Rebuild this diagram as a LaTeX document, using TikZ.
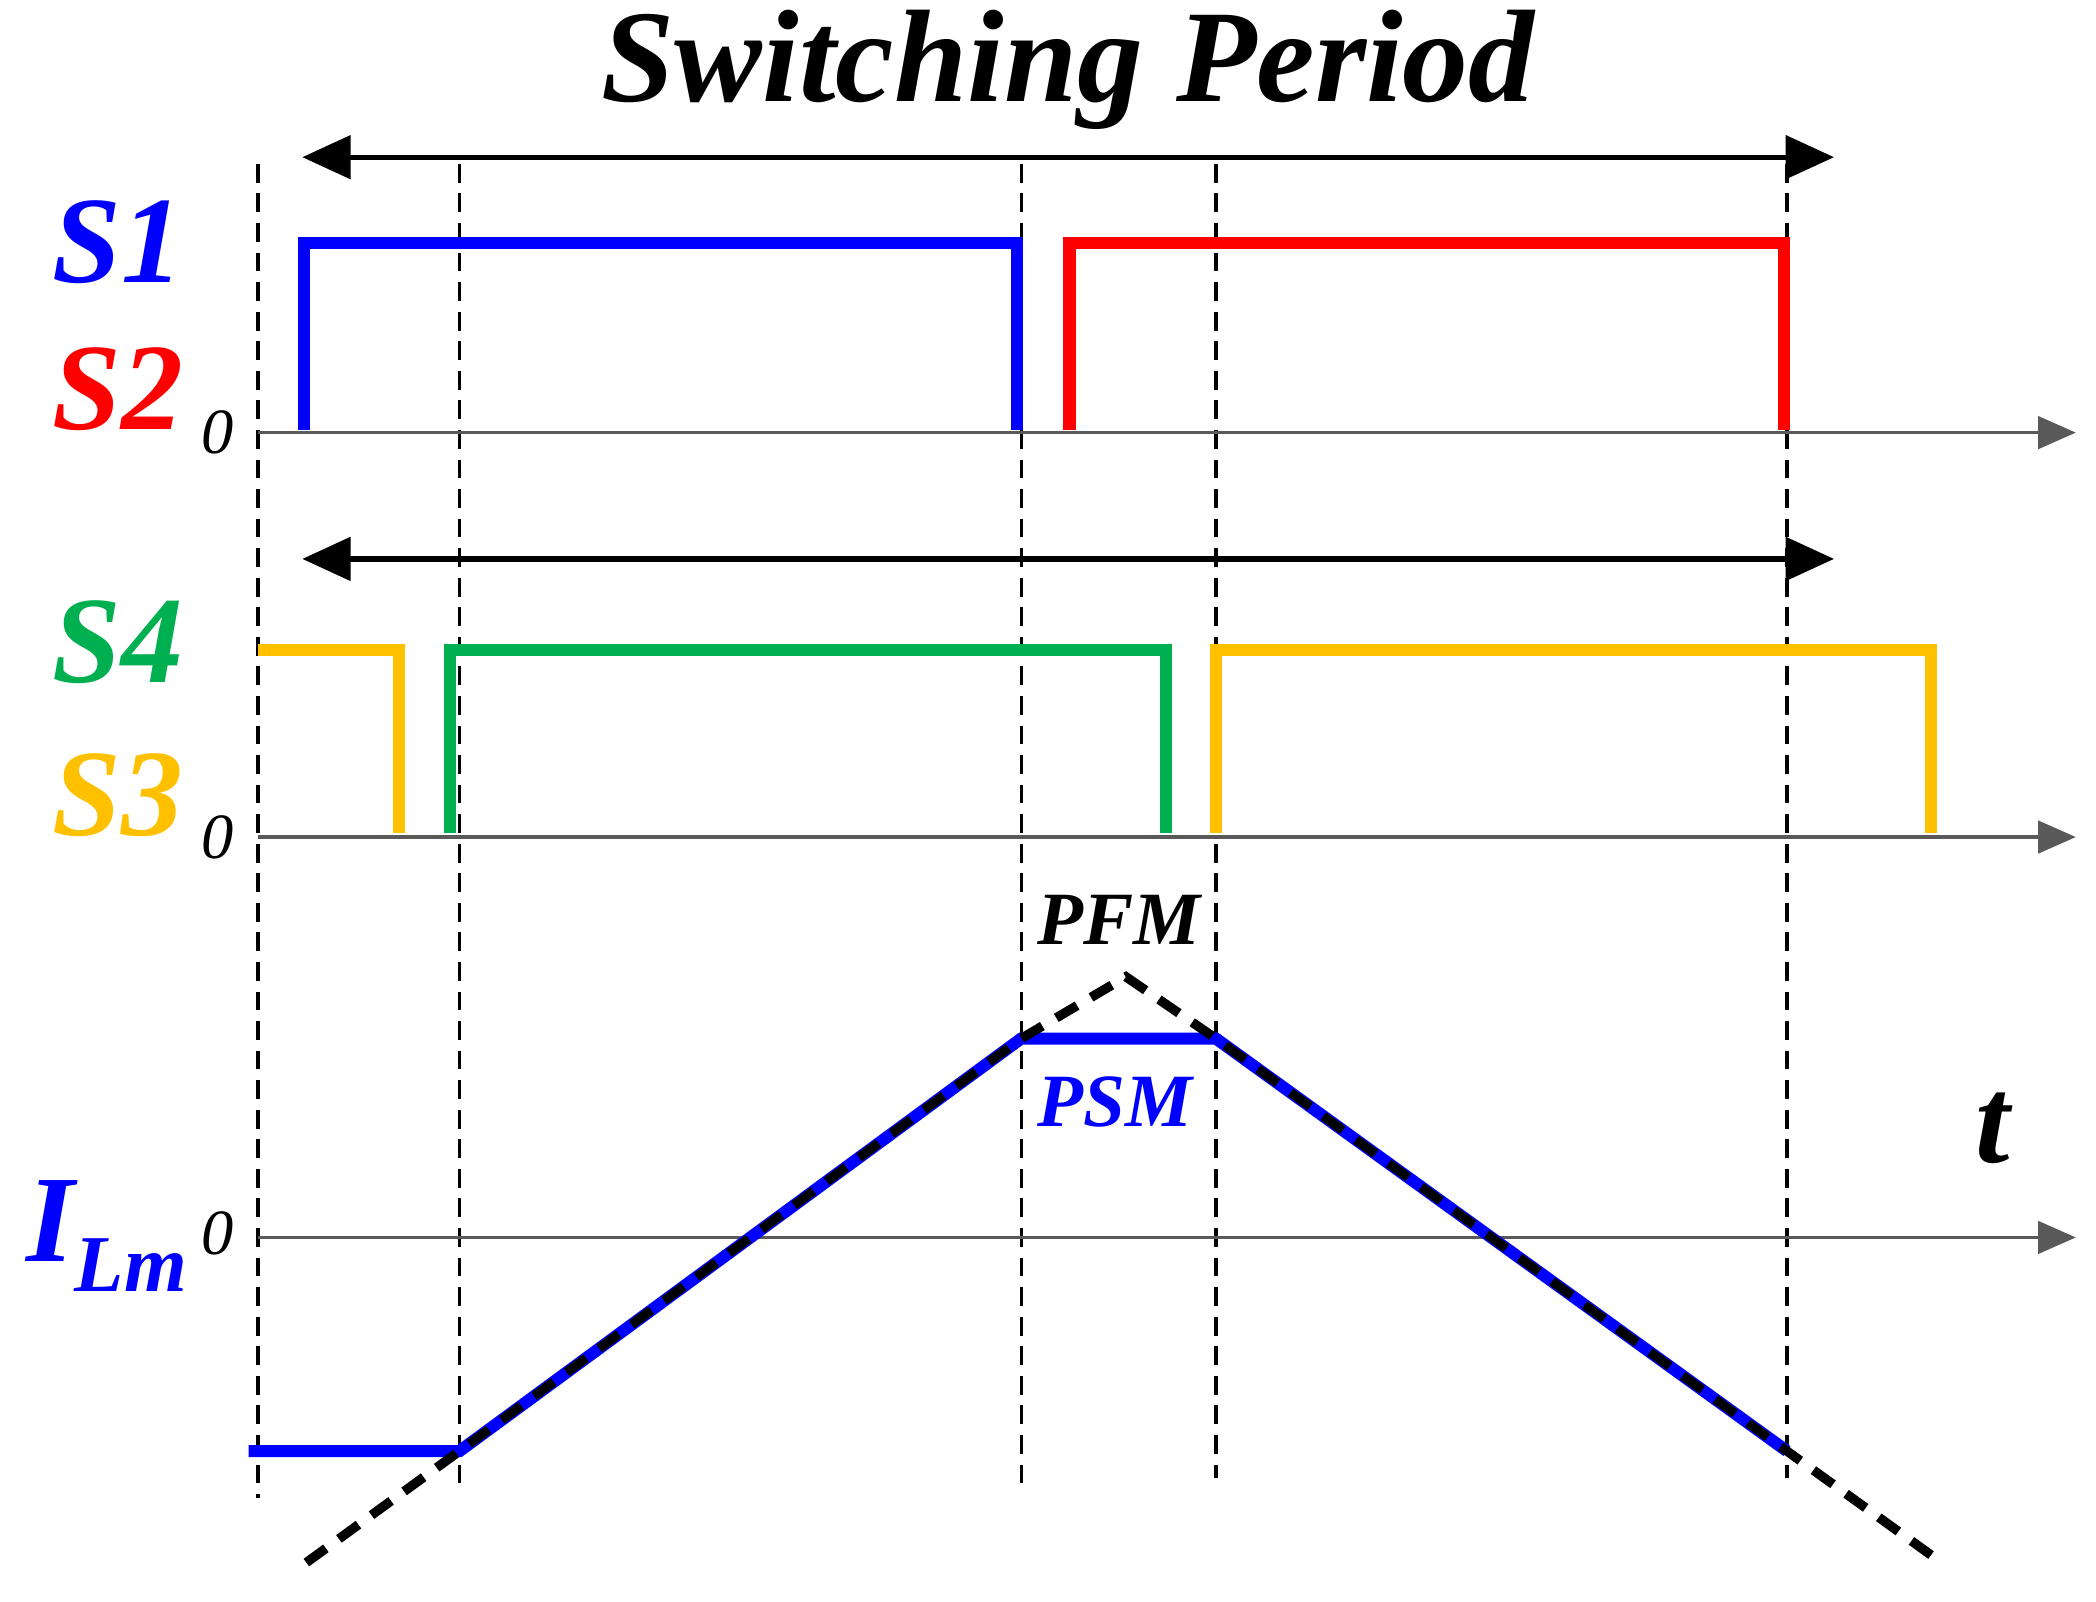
\documentclass[tikz,border=0pt]{standalone}
\usepackage{fontspec}
\setmainfont{Liberation Serif}
\usetikzlibrary{arrows.meta}
\begin{document}
\begin{tikzpicture}[x=0.5pt,y=-0.5pt,
  vline/.style={black,dashed,line width=1.2pt,dash pattern=on 7pt off 4pt},
  axis/.style={gray!70!black,line width=1.3pt,-{Triangle[length=14pt,width=12pt]}},
  period/.style={black,line width=2pt,{Triangle[length=18pt,width=16pt]}-{Triangle[length=18pt,width=16pt]}},
  sig/.style={line width=4.5pt},
  lab/.style={font=\fontsize{46}{46}\selectfont\bfseries\itshape},
  zero/.style={font=\fontsize{24}{24}\selectfont\itshape}]
\useasboundingbox (0,0) rectangle (1560,1192);
\definecolor{sblue}{RGB}{0,0,255}
\definecolor{sred}{RGB}{255,0,0}
\definecolor{sgreen}{RGB}{0,176,80}
\definecolor{syellow}{RGB}{255,192,0}
% verticals
\draw[vline] (192,122) -- (192,1115);
\draw[vline] (342,122) -- (342,1110);
\draw[vline] (760,122) -- (760,1105);
\draw[vline] (905,122) -- (905,1100);
\draw[vline] (1330,122) -- (1330,1100);
% title and period arrows
\node[font=\fontsize{49}{49}\selectfont\bfseries\itshape] (title) at (795,52) {Switching Period};
\draw[period] (225,117) -- (1365,117);
\draw[period] (225,416) -- (1365,416);
% axes
\draw[axis] (192,322) -- (1545,322);
\draw[axis] (192,623) -- (1545,623);
\draw[axis] (192,921) -- (1545,921);
% signals
\draw[sig,sblue] (226,320) -- (226,181) -- (757,181) -- (757,320);
\draw[sig,sred] (796,320) -- (796,181) -- (1328,181) -- (1328,320);
\draw[sig,syellow] (192,484) -- (297,484) -- (297,620);
\draw[sig,syellow] (905,620) -- (905,484) -- (1437,484) -- (1437,620);
\draw[sig,sgreen] (335,620) -- (335,484) -- (868,484) -- (868,620);
% current
\draw[sig,sblue] (185,1080) -- (342,1080) -- (760,773) -- (905,773) -- (1330,1080);
\draw[black,line width=3.5pt,dash pattern=on 9pt off 6pt] (228,1163) -- (342,1080) -- (760,773) -- (838,727) -- (905,773) -- (1330,1080) -- (1445,1163);
% labels
\node[lab,sblue] (s1) at (88,180) {S1};
\node[lab,sred] (s2) at (88,290) {S2};
\node[lab,sgreen] (s4) at (88,478) {S4};
\node[lab,syellow] (s3) at (88,592) {S3};
\node[lab,sblue] (ilm) at (80,920) {I\textsubscript{\fontsize{30}{30}\selectfont Lm}};
\node[zero] (z1) at (162,322) {0};
\node[zero] (z2) at (162,623) {0};
\node[zero] (z3) at (162,918) {0};
\node[lab] (t) at (1483,840) {t};
\node[font=\fontsize{28}{28}\selectfont\bfseries\itshape] (pfm) at (833,685) {PFM};
\node[font=\fontsize{28}{28}\selectfont\bfseries\itshape,sblue] (psm) at (830,820) {PSM};
\end{tikzpicture}
\end{document}
